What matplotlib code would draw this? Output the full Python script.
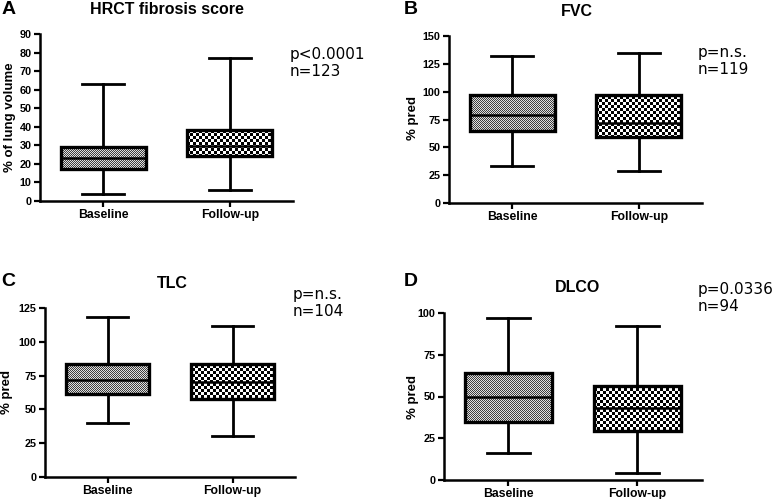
import numpy as np
import matplotlib
matplotlib.use("Agg")
import matplotlib.pyplot as plt

# ---- data ----
groups = ["Baseline", "Follow-up"]

titles = ["HRCT fibrosis score", "FVC", "TLC", "DLCO"]
letters = ["A", "B", "C", "D"]
ylabels = ["% of lung volume", "% pred", "% pred", "% pred"]
stats_text = ["p<0.0001\nn=123", "p=n.s.\nn=119", "p=n.s.\nn=104", "p=0.0336\nn=94"]

# whisker low, q1, median, q3, whisker high  [baseline, follow-up]
hrct_min = [4, 6];   hrct_q1 = [17.5, 24.5]; hrct_med = [23, 29.5]; hrct_q3 = [29, 38];   hrct_max = [63, 77]
fvc_min = [33.5, 29]; fvc_q1 = [65, 59.5];    fvc_med = [79, 72];    fvc_q3 = [97, 97];    fvc_max = [132, 135]
tlc_min = [40, 30.5]; tlc_q1 = [61.5, 58];    tlc_med = [72, 70];    tlc_q3 = [83.5, 83.5]; tlc_max = [118, 112]
dlco_min = [16, 4];   dlco_q1 = [35, 29.5];   dlco_med = [49.5, 43]; dlco_q3 = [64, 56];   dlco_max = [97, 92]

panels_data = [
    (hrct_min, hrct_q1, hrct_med, hrct_q3, hrct_max),
    (fvc_min, fvc_q1, fvc_med, fvc_q3, fvc_max),
    (tlc_min, tlc_q1, tlc_med, tlc_q3, tlc_max),
    (dlco_min, dlco_q1, dlco_med, dlco_q3, dlco_max),
]
y_max = [90, 150, 125, 100]
y_step = [10, 25, 25, 25]

# ---- layout (pixels) ----
W, H = 778, 499
fig = plt.figure(figsize=(W / 100, H / 100), dpi=100)

ax_px = [(40, 34, 293, 201), (449, 36, 702, 203), (45, 308, 295, 477), (444, 313, 702, 480)]
letter_px = [(2, 10), (404, 10), (1, 281), (404, 282)]
title_px = [(167, 9), (577, 11), (172, 284), (577, 288)]
stat_px = [(290, 47), (698, 45), (293, 287), (698, 282)]
ylab_px = [(10, 117), (413, 118), (7, 392), (413, 397)]

bold_font = "Liberation Sans"

def checker(h, w, cell, c1, c2):
    yy, xx = np.mgrid[0:h, 0:w]
    m = ((yy // cell + xx // cell) % 2).astype(bool)
    img = np.empty((h, w, 3))
    img[m] = c1
    img[~m] = c2
    return img

for i in range(4):
    l, t, r, b = ax_px[i]
    ax = fig.add_axes([l / W, 1 - b / H, (r - l) / W, (b - t) / H])
    mn, q1, md, q3, mx = panels_data[i]
    bxp_stats = []
    for g in range(2):
        bxp_stats.append(dict(label=groups[g], whislo=mn[g], q1=q1[g], med=md[g],
                              q3=q3[g], whishi=mx[g], fliers=[]))
    res = ax.bxp(bxp_stats, positions=[1, 2], widths=0.67, patch_artist=True,
                 showfliers=False,
                 boxprops=dict(facecolor="none", edgecolor="black", linewidth=2.4, zorder=3),
                 whiskerprops=dict(color="black", linewidth=2.0),
                 capprops=dict(color="black", linewidth=2.0),
                 medianprops=dict(color="black", linewidth=1.8, zorder=4),
                 capwidths=0.33)
    ax.set_xlim(0.5, 2.5)
    ax.set_ylim(0, y_max[i])
    # texture fills clipped to boxes
    pw, ph = r - l, b - t
    textures = [checker(ph, pw, 1, (0.25, 0.25, 0.25), (0.88, 0.88, 0.88)),
                checker(ph, pw, 3, (0.0, 0.0, 0.0), (1.0, 1.0, 1.0))]
    for g, patch in enumerate(res["boxes"]):
        im = ax.imshow(textures[g], extent=(0.5, 2.5, 0, y_max[i]), aspect="auto",
                       interpolation="nearest", zorder=2, origin="upper")
        im.set_clip_path(patch)
    ax.set_xlim(0.5, 2.5)
    ax.set_ylim(0, y_max[i])

    ax.spines["top"].set_visible(False)
    ax.spines["right"].set_visible(False)
    for s in ("left", "bottom"):
        ax.spines[s].set_linewidth(1.8)
    ax.set_yticks(np.arange(0, y_max[i] + 1, y_step[i]))
    ax.tick_params(direction="out", length=4, width=1.6, pad=2)
    for lab in ax.get_xticklabels():
        lab.set_fontfamily(bold_font)
        lab.set_fontweight("bold")
        lab.set_fontsize(8.8)
    for lab in ax.get_yticklabels():
        lab.set_fontfamily(bold_font)
        lab.set_fontweight("bold")
        lab.set_fontsize(7.8)

    fig.text(letter_px[i][0] / W, 1 - letter_px[i][1] / H, letters[i], family=bold_font,
             weight="bold", fontsize=14, ha="left", va="center")
    fig.text(title_px[i][0] / W, 1 - title_px[i][1] / H, titles[i], family=bold_font,
             weight="bold", fontsize=11.5, ha="center", va="center")
    fig.text(stat_px[i][0] / W, 1 - stat_px[i][1] / H, stats_text[i], family="DejaVu Sans",
             fontsize=11, ha="left", va="top", linespacing=1.15)
    fig.text(ylab_px[i][0] / W, 1 - ylab_px[i][1] / H, ylabels[i], family=bold_font,
             weight="bold", fontsize=9.5, ha="center", va="center", rotation=90)

fig.savefig("out.png", dpi=100)
